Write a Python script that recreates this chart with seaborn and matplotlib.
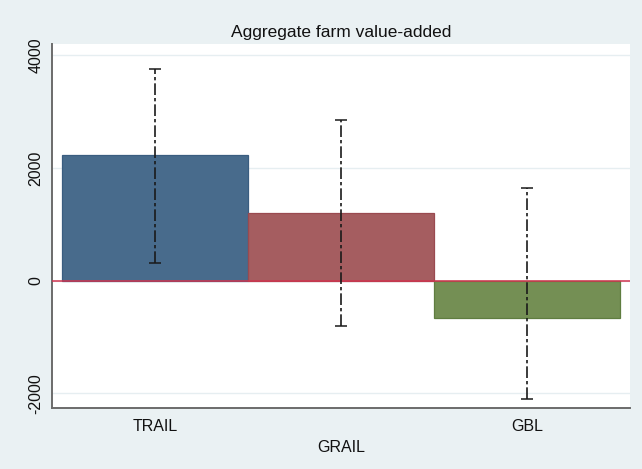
import matplotlib
matplotlib.use("Agg")
import matplotlib.pyplot as plt
import seaborn as sns
import pandas as pd

# Point estimates and confidence bounds for aggregate farm value-added
categories = ["TRAIL", "GRAIL", "GBL"]
estimate = [2222, 1195, -665]
ci_low = [318, -802, -2095]
ci_high = [3746, 2844, 1640]

yticks = [-2000, 0, 2000, 4000]
title = "Aggregate farm value-added"

fill_colors = ["#486B8C", "#A55D60", "#748F54"]
edge_colors = ["#3A5D80", "#9A4A50", "#5F7D40"]
bg = "#EAF1F3"

sns.set_theme(style="white")
plt.rcParams["font.family"] = ["Liberation Sans", "DejaVu Sans"]

df = pd.DataFrame({"group": categories, "value": estimate})

fig = plt.figure(figsize=(6.42, 4.69), dpi=100, facecolor=bg)
ax = fig.add_axes([52 / 642, 1 - 408 / 469, (630 - 52) / 642, (408 - 44) / 469])
ax.set_facecolor("white")

# horizontal grid at the labelled values
for yv in yticks:
    ax.axhline(yv, color="#E6EEF1", lw=1.0, zorder=0)

sns.barplot(data=df, x="group", y="value", hue="group", palette=fill_colors,
            saturation=1, width=1.0, legend=False, ax=ax, zorder=2)
for patch, ec in zip(ax.patches, edge_colors):
    patch.set_edgecolor(ec)
    patch.set_linewidth(0.9)

# reference line at zero
ax.axhline(0, color="#D0344F", lw=1.1, zorder=3)

# confidence intervals
xpos = list(range(len(categories)))
lower = [e - lo for e, lo in zip(estimate, ci_low)]
upper = [hi - e for e, hi in zip(estimate, ci_high)]
eb = ax.errorbar(xpos, estimate, yerr=[lower, upper], fmt="none",
                 ecolor="#1A1A1A", elinewidth=1.2, capsize=4.5, capthick=1.1,
                 zorder=4)
eb[2][0].set_linestyle((0, (7, 1.8, 2, 1.8)))

ax.set_xlim(-0.554, 2.554)
ax.set_ylim(-2258, 4196)
ax.set_yticks(yticks)
ax.set_yticklabels([str(v) for v in yticks], rotation=90, va="center")
ax.set_xlabel("")
ax.set_ylabel("")
ax.set_title(title, fontsize=12.5, color="#111111", pad=5)

for side in ["top", "right"]:
    ax.spines[side].set_visible(False)
for side in ["left", "bottom"]:
    ax.spines[side].set_color("#6B6B6B")
    ax.spines[side].set_linewidth(1.4)

ax.tick_params(axis="both", which="both", direction="out", length=5,
               width=1.0, color="#6B6B6B", labelsize=11.5, labelcolor="#111111")
ax.tick_params(axis="y", pad=1)
ax.tick_params(axis="x", pad=3)
# stagger the middle category label
ax.xaxis.get_major_ticks()[1].set_pad(18)

fig.savefig("out.png", dpi=100, facecolor=bg)
